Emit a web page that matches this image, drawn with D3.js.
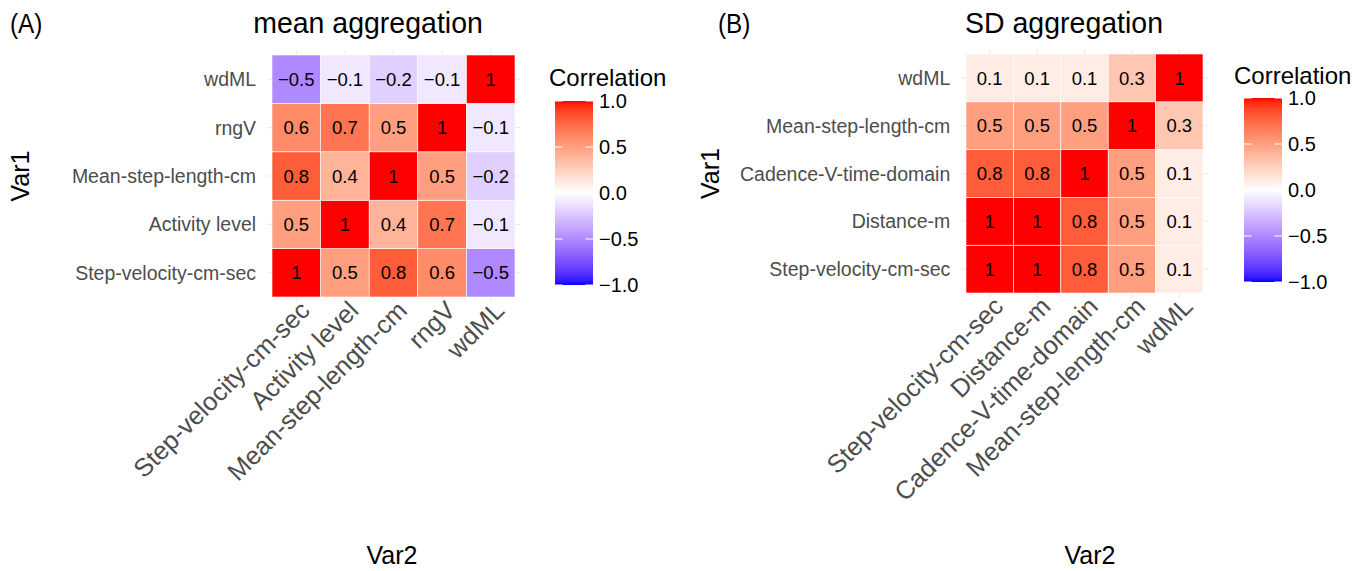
<!DOCTYPE html>
<html><head><meta charset="utf-8">
<script src="https://cdn.jsdelivr.net/npm/d3@7"></script>
<style>
html,body{margin:0;padding:0;background:#fff;}
svg{display:block;font-family:"Liberation Sans",Arial,sans-serif;}
</style></head>
<body>
<svg id="chart" width="1365" height="571"></svg>
<script>
// ---- data ----
const varsA = ["Step-velocity-cm-sec","Activity level","Mean-step-length-cm","rngV","wdML"];
// rows listed bottom (first) to top (last), columns follow varsA
const corrA = [
  [1, 0.5, 0.8, 0.6, -0.5],
  [0.5, 1, 0.4, 0.7, -0.1],
  [0.8, 0.4, 1, 0.5, -0.2],
  [0.6, 0.7, 0.5, 1, -0.1],
  [-0.5, -0.1, -0.2, -0.1, 1]
];
const varsB = ["Step-velocity-cm-sec","Distance-m","Cadence-V-time-domain","Mean-step-length-cm","wdML"];
const corrB = [
  [1, 1, 0.8, 0.5, 0.1],
  [1, 1, 0.8, 0.5, 0.1],
  [0.8, 0.8, 1, 0.5, 0.1],
  [0.5, 0.5, 0.5, 1, 0.3],
  [0.1, 0.1, 0.1, 0.3, 1]
];
const titles = ["mean aggregation","SD aggregation"];
const tags = ["(A)","(B)"];
const legendTicks = [1.0, 0.5, 0.0, -0.5, -1.0];

// ---- layout ----
const panels = [
  {vars: varsA, corr: corrA, title: titles[0], tag: tags[0],
   x0: 272, x1: 515, y0: 55, y1: 297, tagX: 10, titleX: 368,
   var1X: 20, var2X: 392, legX: 555, legY0: 101, legY1: 285, legTitleX: 549, legTitleY: 86},
  {vars: varsB, corr: corrB, title: titles[1], tag: tags[1],
   x0: 966, x1: 1203, y0: 54, y1: 293, tagX: 718, titleX: 1064,
   var1X: 710, var2X: 1090, legX: 1244, legY0: 98, legY1: 282, legTitleX: 1234, legTitleY: 84}
];

const svg = d3.select("#chart");
const color = d3.scaleLinear().domain([-1,0,1]).range(["blue","white","red"]).interpolate(d3.interpolateLab);
const fmt = v => (v < 0 ? "\u2212" : "") + String(Math.abs(v));
const fmtLeg = v => (v < 0 ? "\u2212" : "") + Math.abs(v).toFixed(1);

const defs = svg.append("defs");

panels.forEach((p, pi) => {
  const g = svg.append("g");
  const x = d3.scaleBand().domain(p.vars).range([p.x0, p.x1]).padding(0);
  const y = d3.scaleBand().domain(p.vars).range([p.y1, p.y0]).padding(0);
  const ext = 0.1 * x.bandwidth();
  const exty = 0.1 * y.bandwidth();

  // grid lines (visible in expansion area)
  g.selectAll("line.gx").data(p.vars).join("line")
    .attr("x1", d => x(d) + x.bandwidth()/2).attr("x2", d => x(d) + x.bandwidth()/2)
    .attr("y1", p.y0 - exty).attr("y2", p.y1 + exty)
    .attr("stroke", "#ebebeb").attr("stroke-width", 1.1);
  g.selectAll("line.gy").data(p.vars).join("line")
    .attr("y1", d => y(d) + y.bandwidth()/2).attr("y2", d => y(d) + y.bandwidth()/2)
    .attr("x1", p.x0 - ext).attr("x2", p.x1 + ext)
    .attr("stroke", "#ebebeb").attr("stroke-width", 1.1);

  // cells
  const cells = [];
  p.corr.forEach((row, ri) => row.forEach((v, ci) => cells.push({r: p.vars[ri], c: p.vars[ci], v})));
  g.selectAll("rect.cell").data(cells).join("rect")
    .attr("x", d => x(d.c)).attr("y", d => y(d.r))
    .attr("width", x.bandwidth()).attr("height", y.bandwidth())
    .attr("fill", d => color(d.v)).attr("stroke", "white").attr("stroke-width", 0.6);
  g.selectAll("text.cell").data(cells).join("text")
    .attr("x", d => x(d.c) + x.bandwidth()/2).attr("y", d => y(d.r) + y.bandwidth()/2)
    .attr("text-anchor", "middle").attr("dy", "0.36em")
    .attr("font-size", 18.5).attr("fill", "#000").text(d => fmt(d.v));

  // y axis labels
  g.selectAll("text.ylab").data(p.vars).join("text")
    .attr("x", p.x0 - ext - 11).attr("y", d => y(d) + y.bandwidth()/2)
    .attr("dy", "0.36em").attr("text-anchor", "end")
    .attr("font-size", 19.5).attr("fill", "#4d4d4d").text(d => d);

  // x axis labels rotated
  g.selectAll("text.xlab").data(p.vars).join("text")
    .attr("transform", d => `translate(${x(d) + x.bandwidth()/2 + 2},${p.y1 + 2}) rotate(-45)`)
    .attr("text-anchor", "end").attr("dy", "0.72em")
    .attr("font-size", 25.5).attr("fill", "#4d4d4d").text(d => d);

  // axis titles
  g.append("text").attr("transform", `translate(${p.var1X},${(p.y0+p.y1)/2}) rotate(-90)`)
    .attr("text-anchor", "middle").attr("dy", "0.36em").attr("font-size", 25).attr("fill", "#000").text("Var1");
  g.append("text").attr("x", p.var2X).attr("y", 564)
    .attr("text-anchor", "middle").attr("font-size", 25).attr("fill", "#000").text("Var2");

  // titles
  g.append("text").attr("transform", `translate(${p.titleX},33) scale(0.95,1)`).attr("text-anchor", "middle")
    .attr("font-size", 30).attr("fill", "#000").text(p.title);
  g.append("text").attr("transform", `translate(${p.tagX},33) scale(0.9,1)`)
    .attr("font-size", 27).attr("fill", "#000").text(p.tag);

  // legend
  const gid = "grad" + pi;
  const grad = defs.append("linearGradient").attr("id", gid)
    .attr("x1", 0).attr("y1", 1).attr("x2", 0).attr("y2", 0);
  d3.range(0, 1.0001, 0.02).forEach(t => {
    grad.append("stop").attr("offset", t).attr("stop-color", color(-1 + 2*t));
  });
  const ly = d3.scaleLinear().domain([-1, 1]).range([p.legY1, p.legY0]);
  const bw = 38;
  g.append("rect").attr("x", p.legX).attr("y", p.legY0).attr("width", bw).attr("height", p.legY1 - p.legY0)
    .attr("fill", `url(#${gid})`);
  legendTicks.forEach(t => {
    g.append("line").attr("x1", p.legX).attr("x2", p.legX + bw*0.2).attr("y1", ly(t)).attr("y2", ly(t))
      .attr("stroke", "white").attr("stroke-width", 1);
    g.append("line").attr("x1", p.legX + bw*0.8).attr("x2", p.legX + bw).attr("y1", ly(t)).attr("y2", ly(t))
      .attr("stroke", "white").attr("stroke-width", 1);
  });
  g.selectAll("text.leg").data(legendTicks).join("text")
    .attr("x", p.legX + bw + 6).attr("y", d => ly(d)).attr("dy", "0.36em")
    .attr("font-size", 20).attr("fill", "#000").text(d => fmtLeg(d));
  g.append("text").attr("x", p.legTitleX).attr("y", p.legTitleY)
    .attr("font-size", 24).attr("fill", "#000").text("Correlation");
});
</script>
</body></html>
